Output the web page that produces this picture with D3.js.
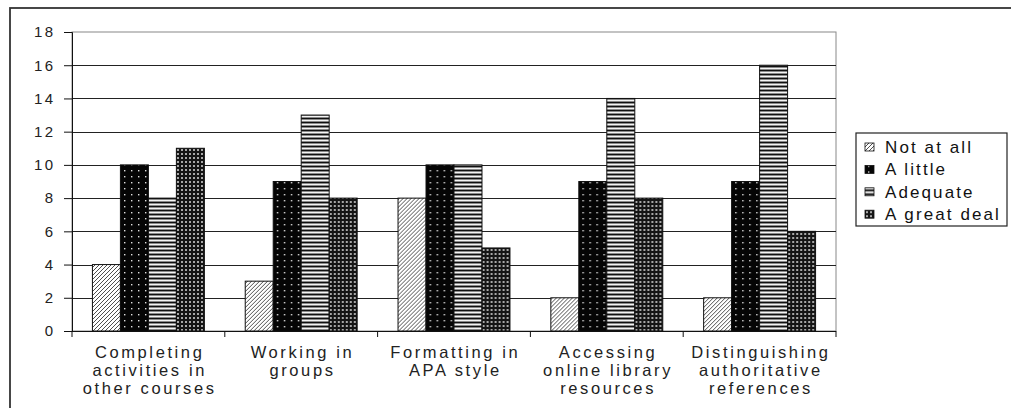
<!DOCTYPE html>
<html>
<head>
<meta charset="utf-8">
<script src="https://cdn.jsdelivr.net/npm/d3@7"></script>
<style>
  html, body { margin: 0; padding: 0; background: #fff; }
  svg { display: block; font-family: "Liberation Sans", Arial, sans-serif; }
</style>
</head>
<body>
<svg id="chart" width="1011" height="408"></svg>
<script>
// Survey responses: how much each library skill helped, by category
const categories = [
  ["Completing", "activities in", "other courses"],
  ["Working in", "groups"],
  ["Formatting in", "APA style"],
  ["Accessing", "online library", "resources"],
  ["Distinguishing", "authoritative", "references"]
];
const seriesNames = ["Not at all", "A little", "Adequate", "A great deal"];
const notAtAll   = [4, 3, 8, 2, 2];
const aLittle    = [10, 9, 10, 9, 9];
const adequate   = [8, 13, 10, 14, 16];
const aGreatDeal = [11, 8, 5, 8, 6];
const yTicks = [0, 2, 4, 6, 8, 10, 12, 14, 16, 18];

const seriesValues = [notAtAll, aLittle, adequate, aGreatDeal];
const patternIds = ["pat-diag", "pat-dots", "pat-stripes", "pat-check"];

const svg = d3.select("#chart");
const defs = svg.append("defs");

// Fill patterns for the monochrome bars
const pDiag = defs.append("pattern").attr("id", "pat-diag")
  .attr("patternUnits", "userSpaceOnUse").attr("width", 4).attr("height", 4);
pDiag.append("rect").attr("width", 4).attr("height", 4).attr("fill", "#fff");
pDiag.append("path").attr("d", "M-1,1 L1,-1 M0,4 L4,0 M3,5 L5,3")
  .attr("stroke", "#222").attr("stroke-width", 0.8);

const pDots = defs.append("pattern").attr("id", "pat-dots")
  .attr("patternUnits", "userSpaceOnUse").attr("width", 7).attr("height", 6);
pDots.append("rect").attr("width", 7).attr("height", 6).attr("fill", "#050505");
pDots.append("rect").attr("x", 3).attr("y", 2).attr("width", 1.4).attr("height", 1.4).attr("fill", "#e0e0e0");

const pStripes = defs.append("pattern").attr("id", "pat-stripes")
  .attr("patternUnits", "userSpaceOnUse").attr("width", 4).attr("height", 4);
pStripes.append("rect").attr("width", 4).attr("height", 4).attr("fill", "#8a8a8a");
pStripes.append("rect").attr("y", 0).attr("width", 4).attr("height", 1).attr("fill", "#f4f4f4");
pStripes.append("rect").attr("y", 2).attr("width", 4).attr("height", 1).attr("fill", "#111");

const pCheck = defs.append("pattern").attr("id", "pat-check")
  .attr("patternUnits", "userSpaceOnUse").attr("width", 4).attr("height", 4);
pCheck.append("rect").attr("width", 4).attr("height", 4).attr("fill", "#151515");
pCheck.append("rect").attr("x", 1).attr("y", 1).attr("width", 2).attr("height", 2).attr("fill", "#a8a8a8");

// Outer frame (only left and top edges fall inside the view)
svg.append("rect").attr("x", 10).attr("y", 8).attr("width", 1200).attr("height", 600)
  .attr("fill", "none").attr("stroke", "#333").attr("stroke-width", 1.8);

const plot = { left: 72, right: 836, top: 32, bottom: 331 };

const x0 = d3.scaleBand().domain(d3.range(categories.length))
  .range([plot.left, plot.right]).paddingInner(0).paddingOuter(0);
const x1 = d3.scaleBand().domain(d3.range(seriesNames.length))
  .range([0, x0.bandwidth()]).paddingInner(0).paddingOuter(0.73);
const y = d3.scaleLinear().domain([0, 18]).range([plot.bottom, plot.top]);

// Plot area outline
svg.append("rect").attr("x", plot.left).attr("y", plot.top)
  .attr("width", plot.right - plot.left).attr("height", plot.bottom - plot.top)
  .attr("fill", "none").attr("stroke", "#888").attr("stroke-width", 1);

// Horizontal gridlines
svg.append("g").selectAll("line").data(yTicks.filter(t => t > 0 && t < 18)).join("line")
  .attr("x1", plot.left).attr("x2", plot.right)
  .attr("y1", d => Math.round(y(d)) + 0.5).attr("y2", d => Math.round(y(d)) + 0.5)
  .attr("stroke", "#222").attr("stroke-width", 1);

// Bars
const groups = svg.append("g").selectAll("g").data(categories).join("g")
  .attr("transform", (d, i) => `translate(${x0(i)},0)`);
groups.selectAll("rect")
  .data((d, i) => seriesValues.map((vals, s) => ({ s, v: vals[i] })))
  .join("rect")
  .attr("x", d => x1(d.s))
  .attr("y", d => y(d.v))
  .attr("width", x1.bandwidth())
  .attr("height", d => y(0) - y(d.v))
  .attr("fill", d => `url(#${patternIds[d.s]})`)
  .attr("stroke", "#111").attr("stroke-width", 1);

// Y axis
const yAxis = d3.axisLeft(y).tickValues(yTicks).tickSize(8).tickPadding(11).tickFormat(d3.format("d"));
const gy = svg.append("g").attr("transform", `translate(${plot.left},0)`).call(yAxis);
gy.select(".domain").attr("stroke", "#111");
gy.selectAll(".tick line").attr("stroke", "#111");
gy.selectAll(".tick text")
  .attr("font-size", 15).attr("fill", "#222")
  .style("letter-spacing", "2.2px").attr("dx", 2.2);

// X axis: tick marks at category boundaries
const boundaries = d3.range(categories.length + 1).map(i => i === categories.length ? plot.right : x0(i));
svg.append("line").attr("x1", plot.left).attr("x2", plot.right)
  .attr("y1", plot.bottom + 0.5).attr("y2", plot.bottom + 0.5).attr("stroke", "#111");
svg.append("g").selectAll("line").data(boundaries).join("line")
  .attr("x1", d => d).attr("x2", d => d)
  .attr("y1", plot.bottom).attr("y2", plot.bottom + 6)
  .attr("stroke", "#111");

// Category labels
const catLabels = svg.append("g").selectAll("text").data(categories).join("text")
  .attr("x", (d, i) => x0(i) + x0.bandwidth() / 2 + 1.3)
  .attr("y", 358)
  .attr("text-anchor", "middle")
  .attr("font-size", 16.5).attr("fill", "#222")
  .style("letter-spacing", "2.6px");
catLabels.selectAll("tspan").data(d => d).join("tspan")
  .attr("x", function () { return this.parentNode.getAttribute("x"); })
  .attr("dy", (d, i) => i === 0 ? 0 : 18.2)
  .text(d => d);

// Legend
const legend = svg.append("g");
legend.append("rect").attr("x", 856).attr("y", 133).attr("width", 151).attr("height", 93)
  .attr("fill", "#fff").attr("stroke", "#222").attr("stroke-width", 1.2);
const items = legend.selectAll("g").data(seriesNames).join("g")
  .attr("transform", (d, i) => `translate(865,${147 + i * 22.4})`);
items.append("rect").attr("x", 0).attr("y", -4).attr("width", 9).attr("height", 8)
  .attr("fill", (d, i) => `url(#${patternIds[i]})`).attr("stroke", "#111").attr("stroke-width", 0.8);
items.append("text").attr("x", 20).attr("y", 6)
  .attr("font-size", 17).attr("fill", "#111")
  .style("letter-spacing", "2.1px")
  .text(d => d);
</script>
</body>
</html>
